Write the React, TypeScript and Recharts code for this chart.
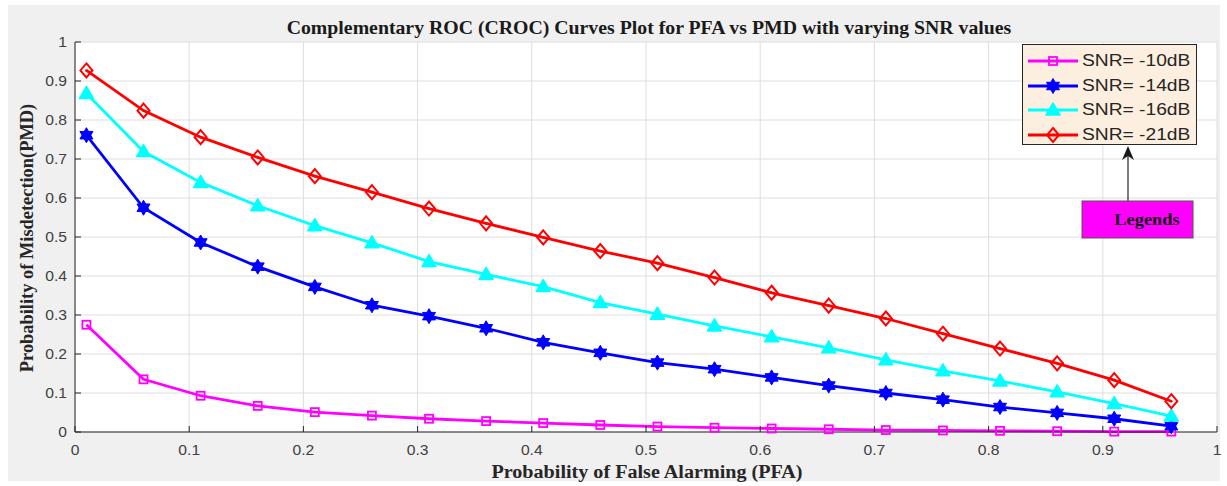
import React from 'react';
import { LineChart, Line, XAxis, YAxis, CartesianGrid } from 'recharts';

// false-alarm probabilities where each curve was sampled
const pfa = [0.01, 0.06, 0.11, 0.16, 0.21, 0.26, 0.31, 0.36, 0.41, 0.46, 0.51, 0.56, 0.61, 0.66, 0.71, 0.76, 0.81, 0.86, 0.91, 0.96];

// misdetection probability per SNR
const pmd10 = [0.275, 0.135, 0.093, 0.067, 0.051, 0.042, 0.034, 0.028, 0.023, 0.018, 0.014, 0.011, 0.009, 0.007, 0.005, 0.004, 0.003, 0.002, 0.001, 0.001];
const pmd14 = [0.761, 0.575, 0.486, 0.424, 0.372, 0.325, 0.297, 0.266, 0.230, 0.203, 0.178, 0.161, 0.140, 0.119, 0.100, 0.083, 0.064, 0.049, 0.034, 0.015];
const pmd16 = [0.868, 0.719, 0.640, 0.580, 0.529, 0.485, 0.437, 0.404, 0.373, 0.332, 0.302, 0.272, 0.244, 0.216, 0.185, 0.157, 0.131, 0.103, 0.073, 0.041];
const pmd21 = [0.927, 0.824, 0.756, 0.704, 0.656, 0.615, 0.573, 0.535, 0.499, 0.464, 0.433, 0.396, 0.357, 0.324, 0.291, 0.252, 0.214, 0.176, 0.133, 0.079];

const xTicks = [0, 0.1, 0.2, 0.3, 0.4, 0.5, 0.6, 0.7, 0.8, 0.9, 1];
const yTicks = [0, 0.1, 0.2, 0.3, 0.4, 0.5, 0.6, 0.7, 0.8, 0.9, 1];

type Marker = 'square' | 'hexagram' | 'triangle' | 'diamond';

const series: { key: string; name: string; color: string; marker: Marker }[] = [
  { key: 'snr10', name: 'SNR= -10dB', color: '#ff00ff', marker: 'square' },
  { key: 'snr14', name: 'SNR= -14dB', color: '#0000ff', marker: 'hexagram' },
  { key: 'snr16', name: 'SNR= -16dB', color: '#00ffff', marker: 'triangle' },
  { key: 'snr21', name: 'SNR= -21dB', color: '#ff0000', marker: 'diamond' },
];

const data = pfa.map((p, i) => ({
  pfa: p,
  snr10: pmd10[i],
  snr14: pmd14[i],
  snr16: pmd16[i],
  snr21: pmd21[i],
}));

const AXIS = '#262626';
const TICK_TEXT = '#404040';
const SANS = '"Liberation Sans", Arial, sans-serif';
const SERIF = '"Liberation Serif", "Times New Roman", serif';

function MarkerShape({ type, cx, cy, color }: { type: Marker; cx: number; cy: number; color: string }) {
  if (type === 'square') {
    return <rect x={cx - 4} y={cy - 4} width={8} height={8} fill="none" stroke={color} strokeWidth={1.8} />;
  }
  if (type === 'hexagram') {
    const r = 7.5;
    const tri = (rot: number) =>
      [0, 1, 2]
        .map((k) => {
          const a = rot + (k * 2 * Math.PI) / 3;
          return `${cx + r * Math.sin(a)},${cy - r * Math.cos(a)}`;
        })
        .join(' ');
    return (
      <g>
        <polygon points={tri(0)} fill={color} stroke={color} strokeWidth={1} />
        <polygon points={tri(Math.PI)} fill={color} stroke={color} strokeWidth={1} />
      </g>
    );
  }
  if (type === 'triangle') {
    const pts = `${cx},${cy - 7} ${cx + 7},${cy + 5} ${cx - 7},${cy + 5}`;
    return <polygon points={pts} fill={color} stroke={color} strokeWidth={1.5} strokeLinejoin="round" />;
  }
  const pts = `${cx},${cy - 7} ${cx + 6},${cy} ${cx},${cy + 7} ${cx - 6},${cy}`;
  return (
    <g>
      <polygon points={pts} fill="none" stroke={color} strokeWidth={2} />
      <circle cx={cx} cy={cy} r={1.3} fill={color} />
    </g>
  );
}

const makeDot = (type: Marker, color: string) => (props: any) => {
  const { cx, cy, index } = props;
  if (cx == null || cy == null) return <g key={`d-${index}`} />;
  return (
    <g key={`${type}-${index}`}>
      <MarkerShape type={type} cx={cx} cy={cy} color={color} />
    </g>
  );
};

const fmt = (v: number) => (v === 0 || v === 1 ? String(v) : v.toFixed(1));

// tick labels are drawn slightly wide, like the exported figure
const XTick = (props: any) => {
  const { x, y, payload } = props;
  return (
    <text
      transform={`translate(${x},${y}) scale(1.12,1)`}
      textAnchor="middle"
      dy="0.71em"
      fill={TICK_TEXT}
      fontSize={14}
      fontFamily={SANS}
    >
      {fmt(payload.value)}
    </text>
  );
};

const YTick = (props: any) => {
  const { x, y, payload } = props;
  return (
    <text
      transform={`translate(${x},${y}) scale(1.12,1)`}
      textAnchor="end"
      dy="0.355em"
      fill={TICK_TEXT}
      fontSize={14}
      fontFamily={SANS}
    >
      {fmt(payload.value)}
    </text>
  );
};

function LegendBox() {
  return (
    <div
      style={{
        position: 'absolute',
        left: 1022,
        top: 44,
        width: 175,
        height: 101,
        background: '#fdefdf',
        border: `1px solid ${AXIS}`,
        boxSizing: 'border-box',
        paddingTop: 4,
      }}
    >
      {series.map((s) => (
        <div key={s.key} style={{ display: 'flex', alignItems: 'center', height: 24.5 }}>
          <svg width={56} height={20} style={{ marginLeft: 3, flex: 'none' }}>
            <line x1={2} y1={10} x2={52} y2={10} stroke={s.color} strokeWidth={2.8} />
            <MarkerShape type={s.marker} cx={27} cy={10} color={s.color} />
          </svg>
          <span
            style={{
              fontFamily: SANS,
              fontSize: 16,
              color: '#262626',
              display: 'inline-block',
              transform: 'scaleX(1.2)',
              transformOrigin: 'left center',
              whiteSpace: 'nowrap',
            }}
          >
            {s.name}
          </span>
        </div>
      ))}
    </div>
  );
}

export default function App() {
  return (
    <div style={{ position: 'absolute', left: 0, top: 0, width: 1227, height: 486, background: '#ffffff' }}>
      <div style={{ position: 'absolute', left: 8, top: 5, width: 1212, height: 476, background: '#f0f0f0' }} />
      <div style={{ position: 'absolute', left: 0, top: 0 }}>
        <LineChart width={1227} height={486} data={data} margin={{ top: 42, right: 10, bottom: 24, left: 35 }}>
          <CartesianGrid stroke="#dedede" fill="#ffffff" horizontalValues={yTicks} verticalValues={xTicks} />
          <XAxis
            dataKey="pfa"
            type="number"
            domain={[0, 1]}
            ticks={xTicks}
            height={30}
            tickSize={-6}
            tickMargin={19}
            stroke={AXIS}
            tick={XTick}
            interval={0}
          />
          <XAxis
            xAxisId="top"
            dataKey="pfa"
            type="number"
            orientation="top"
            domain={[0, 1]}
            ticks={xTicks}
            height={0}
            tickSize={-6}
            stroke={AXIS}
            tick={() => <g />}
            interval={0}
          />
          <YAxis
            type="number"
            domain={[0, 1]}
            ticks={yTicks}
            width={40}
            tickSize={-6}
            tickMargin={14}
            stroke={AXIS}
            tick={YTick}
            interval={0}
          />
          <YAxis
            yAxisId="right"
            orientation="right"
            type="number"
            domain={[0, 1]}
            ticks={yTicks}
            width={0}
            tickSize={-6}
            stroke={AXIS}
            tick={() => <g />}
            interval={0}
          />
          {series.map((s) => (
            <Line
              key={s.key}
              type="linear"
              dataKey={s.key}
              name={s.name}
              stroke={s.color}
              strokeWidth={2.8}
              dot={makeDot(s.marker, s.color)}
              activeDot={false}
              isAnimationActive={false}
            />
          ))}
        </LineChart>
      </div>

      <svg width={1227} height={486} style={{ position: 'absolute', left: 0, top: 0, pointerEvents: 'none' }}>
        <text
          transform="translate(649,34) scale(1.1,1)"
          textAnchor="middle"
          fontFamily={SERIF}
          fontWeight="bold"
          fontSize={18}
          fill="#1a1a1a"
        >
          Complementary ROC (CROC) Curves Plot for PFA vs PMD with varying SNR values
        </text>
        <text
          transform="translate(647,478) scale(1.06,1)"
          textAnchor="middle"
          fontFamily={SERIF}
          fontWeight="bold"
          fontSize={19}
          fill="#262626"
        >
          Probability of False Alarming (PFA)
        </text>
        <text
          transform="translate(33,238) rotate(-90)"
          textAnchor="middle"
          fontFamily={SERIF}
          fontWeight="bold"
          fontSize={18.4}
          fill="#262626"
        >
          Probability of Misdetection(PMD)
        </text>
        {/* annotation pointing at the legend */}
        <line x1={1128} y1={201} x2={1128} y2={156} stroke="#262626" strokeWidth={1.2} />
        <polygon points="1128,146 1122,160 1128,156 1134,160" fill="#1a1a1a" />
        <rect x={1082} y={201} width={111} height={37} fill="#ff00ff" stroke="#555555" strokeWidth={1} />
        <text
          transform="translate(1147,225) scale(1.08,1)"
          textAnchor="middle"
          fontFamily={SERIF}
          fontWeight="bold"
          fontSize={17}
          fill="#111111"
        >
          Legends
        </text>
      </svg>

      <LegendBox />
    </div>
  );
}
